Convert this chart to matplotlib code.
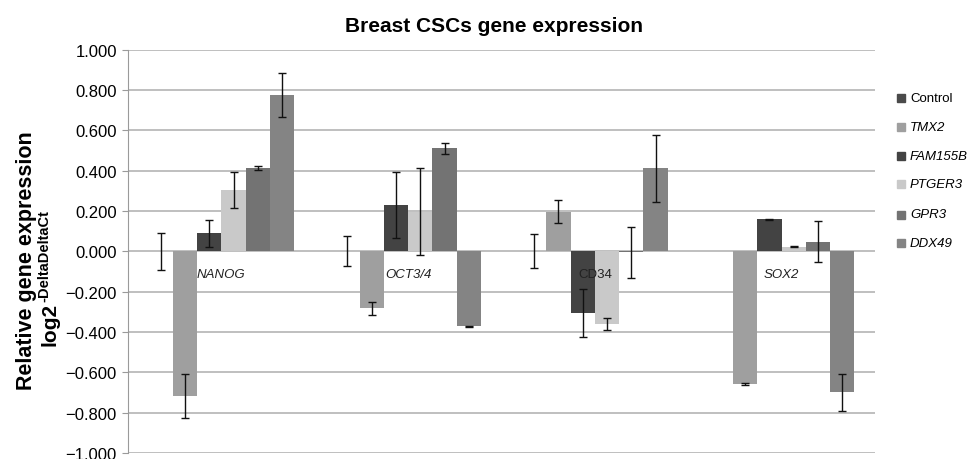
import matplotlib
matplotlib.use("Agg")
import matplotlib.pyplot as plt
import numpy as np

plt.rcParams['font.family'] = ['Liberation Sans', 'DejaVu Sans']

categories = ["NANOG", "OCT3/4", "CD34", "SOX2"]
cat_italic = [True, True, False, True]
series = ["Control", "TMX2", "FAM155B", "PTGER3", "GPR3", "DDX49"]
series_italic = [False, True, True, True, True, True]
colors = ["#4a4a4a", "#9f9f9f", "#434343", "#c9c9c9", "#737373", "#848484"]

control = [0.0, 0.0, 0.0, 0.0]
tmx2 = [-0.717, -0.283, 0.197, -0.659]
fam155b = [0.089, 0.230, -0.306, 0.159]
ptger3 = [0.306, 0.197, -0.361, 0.023]
gpr3 = [0.412, 0.512, -0.005, 0.048]
ddx49 = [0.776, -0.372, 0.412, -0.699]

control_err = [0.093, 0.074, 0.085, 0.0]
tmx2_err = [0.110, 0.031, 0.058, 0.003]
fam155b_err = [0.068, 0.165, 0.120, 0.002]
ptger3_err = [0.089, 0.215, 0.032, 0.003]
gpr3_err = [0.009, 0.027, 0.127, 0.103]
ddx49_err = [0.109, 0.003, 0.166, 0.092]

values = [control, tmx2, fam155b, ptger3, gpr3, ddx49]
errors = [control_err, tmx2_err, fam155b_err, ptger3_err, gpr3_err, ddx49_err]

yticks = [1.0, 0.8, 0.6, 0.4, 0.2, 0.0, -0.2, -0.4, -0.6, -0.8, -1.0]

fig = plt.figure(figsize=(9.69, 4.60), dpi=100)
ax = fig.add_axes([128/969, 1-453.8/460, (875-128)/969, (453.8-50.8)/460])

n = len(series)
group_w = 0.78
w = group_w / n
x = np.arange(len(categories))
for i, (name, vals, errs) in enumerate(zip(series, values, errors)):
    pos = x - group_w/2 + w/2 + i*w
    ax.bar(pos, vals, width=w, color=colors[i], edgecolor='none', zorder=2)
    vals_a = np.array(vals)
    errs_a = np.array(errs)
    m = errs_a > 0
    ax.errorbar(pos[m], vals_a[m], yerr=errs_a[m], fmt='none', ecolor='#111111',
                elinewidth=1.0, capsize=3, capthick=1.0, zorder=3)

ax.set_xlim(-0.5, len(categories)-0.5)
ax.set_ylim(-1.0, 1.0)
ax.set_yticks(yticks)
ax.set_yticklabels([f"{t:.3f}".replace('-', '\u2212') if t != 0 else "0.000" for t in yticks],
                   fontsize=12)
ax.set_xticks([])
ax.yaxis.grid(True, color='#b4b4b4', linewidth=1.2, zorder=0)
ax.set_axisbelow(True)
for s in ['top', 'right', 'bottom']:
    ax.spines[s].set_visible(False)
ax.spines['left'].set_color('#9a9a9a')
ax.tick_params(axis='y', length=4, color='#9a9a9a', pad=4)

for xi, cat, it in zip(x, categories, cat_italic):
    ax.text(xi, -0.127, cat, ha='center', va='baseline', fontsize=9.5,
            style='italic' if it else 'normal', color='#222222', zorder=4)

fig.text(494/969, 1-31.7/460, "Breast CSCs gene expression", ha='center', va='baseline',
         fontsize=15, fontweight='bold')
fig.text(32/969, 1-390/460, "Relative gene expression", rotation=90, rotation_mode='anchor',
         ha='left', va='baseline', fontsize=15.5, fontweight='bold')
t_log = fig.text(55.5/969, 1-346/460, "log2", rotation=90, rotation_mode='anchor',
                 ha='left', va='baseline', fontsize=15, fontweight='bold')
fig.canvas.draw()
bb = t_log.get_window_extent(renderer=fig.canvas.get_renderer())
top_y = bb.y1 / fig.bbox.height
fig.text(48.5/969, top_y + 1/460, "-DeltaDeltaCt", rotation=90, rotation_mode='anchor',
         ha='left', va='baseline', fontsize=10.5, fontweight='bold')

leg_y = [99, 128, 156.7, 185, 215.5, 244]
for i, name in enumerate(series):
    yy = 1 - leg_y[i]/460
    fig.patches.append(plt.Rectangle((897/969, yy - 4/460), 8/969, 8/460,
                                     transform=fig.transFigure, color=colors[i]))
    fig.text(910/969, yy, name, ha='left', va='center', fontsize=9.5,
             style='italic' if series_italic[i] else 'normal')

fig.savefig("out.png", dpi=100)
